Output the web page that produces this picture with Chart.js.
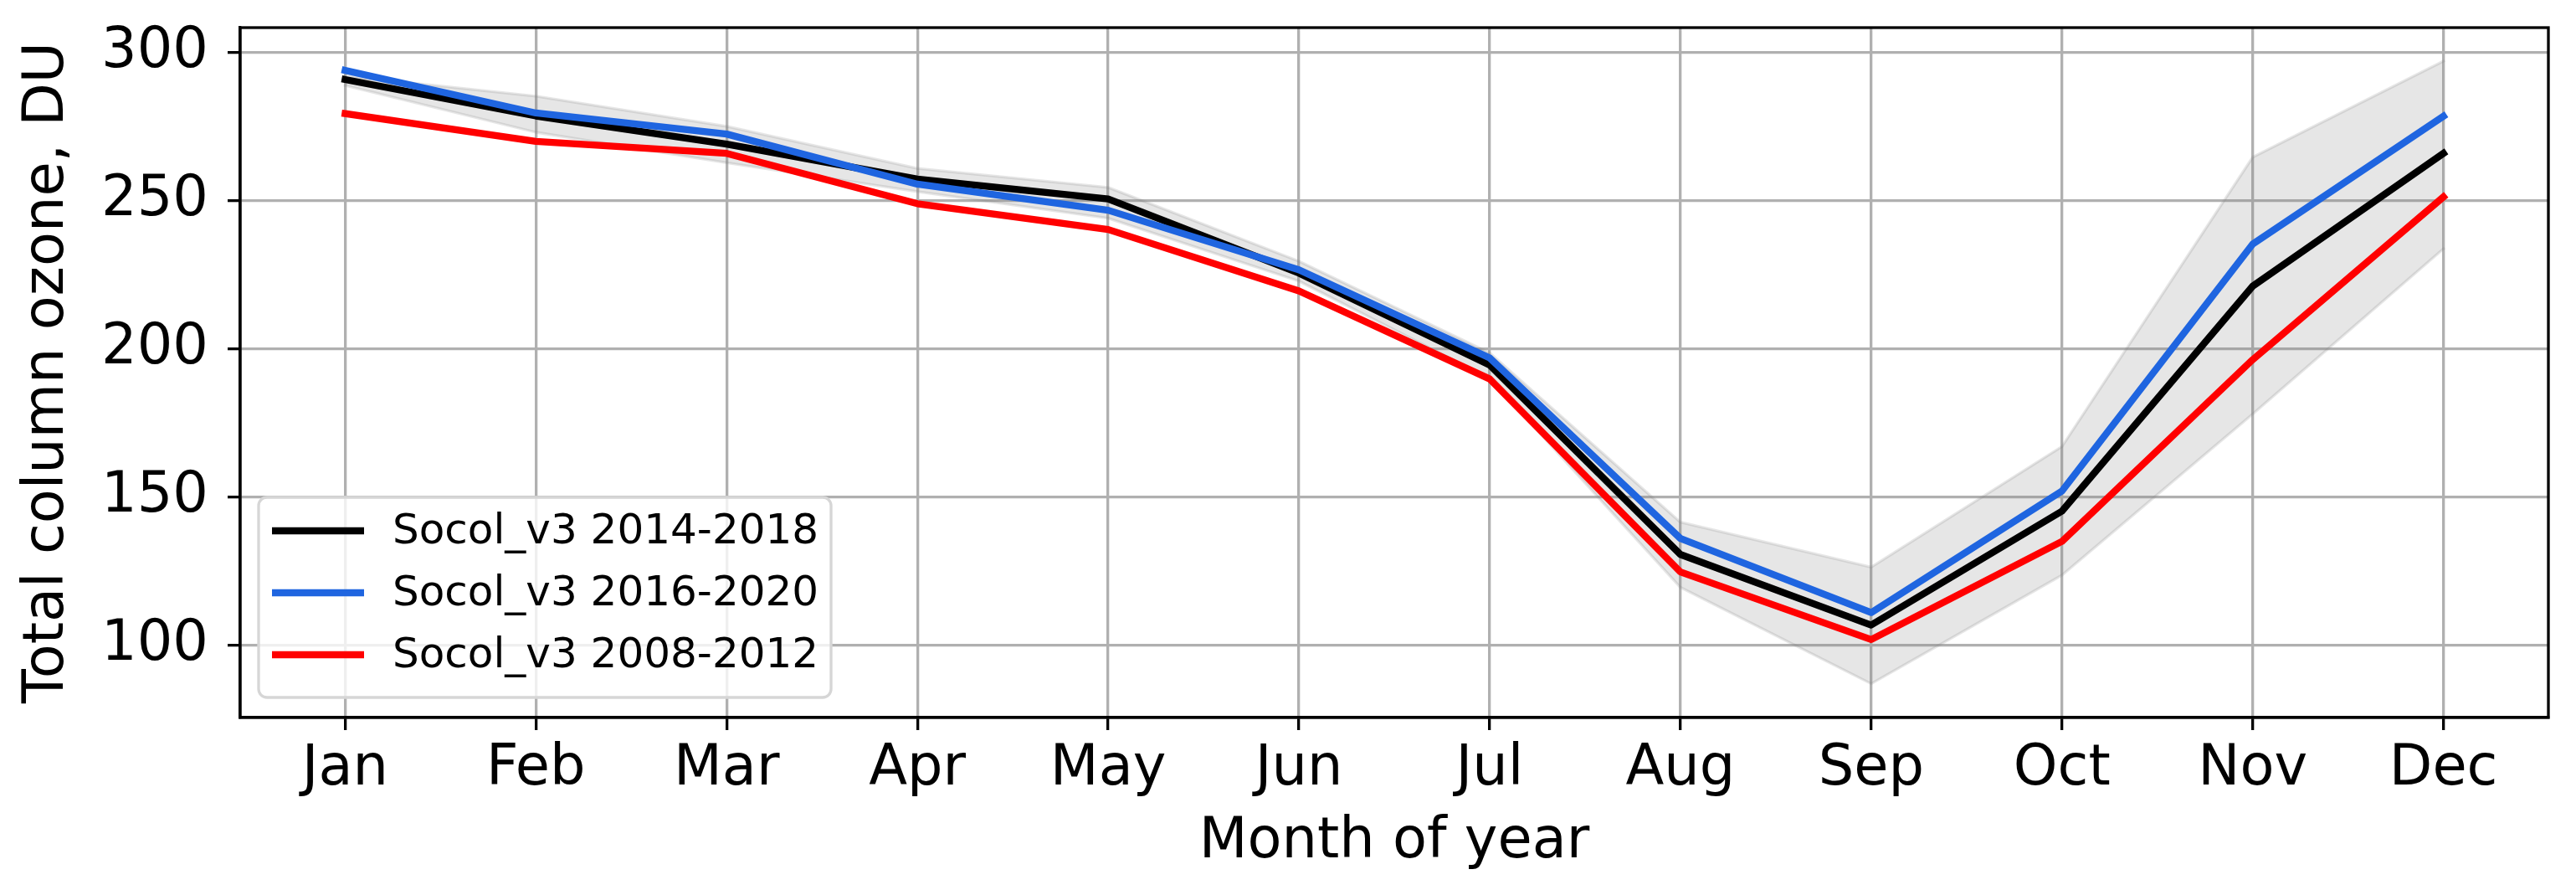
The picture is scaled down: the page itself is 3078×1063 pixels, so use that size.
<!DOCTYPE html>
<html>
<head>
<meta charset="utf-8">
<script src="https://cdn.jsdelivr.net/npm/chart.js@4.4.1/dist/chart.umd.min.js"></script>
<style>
  html, body { margin: 0; padding: 0; background: #ffffff; }
  #wrap { width: 3078px; height: 1063px; position: relative; }
  canvas { display: block; }
</style>
</head>
<body>
<div id="wrap"><canvas id="c" width="3078" height="1063"></canvas></div>
<script>
// ---- Data ----
const months = ['Jan', 'Feb', 'Mar', 'Apr', 'May', 'Jun', 'Jul', 'Aug', 'Sep', 'Oct', 'Nov', 'Dec'];
const socol20142018 = [290.8, 278.5, 269.0, 257.2, 250.5, 225.5, 194.5, 130.6, 106.8, 145.2, 221.1, 265.9];
const socol20162020 = [293.9, 279.5, 272.4, 255.5, 246.7, 226.6, 196.9, 136.0, 111.0, 152.0, 235.3, 278.4];
const socol20082012 = [279.3, 269.9, 265.9, 248.9, 240.2, 219.5, 189.8, 124.7, 101.9, 135.0, 196.3, 251.2];
const rangeUpper    = [292.0, 285.2, 275.0, 260.8, 254.4, 229.5, 198.6, 141.5, 126.3, 167.0, 264.6, 297.0];
const rangeLower    = [288.8, 273.0, 262.7, 253.0, 244.0, 222.8, 190.0, 119.5, 87.0, 123.6, 178.0, 233.7];
const yTickValues = [100, 150, 200, 250, 300];
const seriesLabels = ['Socol_v3 2014-2018', 'Socol_v3 2016-2020', 'Socol_v3 2008-2012'];

const toXY = arr => arr.map((v, i) => ({ x: i, y: v }));

const FONT = 'DejaVu Sans';
const BAND = 'rgba(128,128,128,0.2)';
const BLACK = '#000000';
const BLUE = '#1f65e0';
const RED = '#ff0000';

const datasets = [
  { label: seriesLabels[2], data: toXY(socol20082012), borderColor: RED, borderWidth: 8.3, pointRadius: 0, fill: false, order: 0 },
  { label: seriesLabels[1], data: toXY(socol20162020), borderColor: BLUE, borderWidth: 8.3, pointRadius: 0, fill: false, order: 1 },
  { label: seriesLabels[0], data: toXY(socol20142018), borderColor: BLACK, borderWidth: 8.3, pointRadius: 0, fill: false, order: 2 },
  { label: 'upper', data: toXY(rangeUpper), borderColor: BAND, backgroundColor: BAND, borderWidth: 3.3, pointRadius: 0, fill: { target: 4 }, order: 3 },
  { label: 'lower', data: toXY(rangeLower), borderColor: BAND, borderWidth: 3.3, pointRadius: 0, fill: false, order: 4 }
];

const legendItems = [
  { text: seriesLabels[0], color: BLACK },
  { text: seriesLabels[1], color: BLUE },
  { text: seriesLabels[2], color: RED }
];

function roundRect(ctx, x, y, w, h, r) {
  ctx.beginPath();
  ctx.moveTo(x + r, y);
  ctx.lineTo(x + w - r, y);
  ctx.arcTo(x + w, y, x + w, y + r, r);
  ctx.lineTo(x + w, y + h - r);
  ctx.arcTo(x + w, y + h, x + w - r, y + h, r);
  ctx.lineTo(x + r, y + h);
  ctx.arcTo(x, y + h, x, y + h - r, r);
  ctx.lineTo(x, y + r);
  ctx.arcTo(x, y, x + r, y, r);
  ctx.closePath();
}

const framePlugin = {
  id: 'frameAndLegend',
  afterDraw(chart) {
    const ctx = chart.ctx;
    const a = chart.chartArea;
    ctx.save();
    // Legend (lower left, inside axes)
    const lx = a.left + 22, ly = a.bottom - 24 - 239, lw = 684, lh = 239;
    roundRect(ctx, lx, ly, lw, lh, 10);
    ctx.fillStyle = 'rgba(255,255,255,0.8)';
    ctx.fill();
    ctx.strokeStyle = '#d6d6d6';
    ctx.lineWidth = 3.3;
    ctx.stroke();
    ctx.font = '50px "' + FONT + '"';
    ctx.textBaseline = 'middle';
    ctx.textAlign = 'left';
    legendItems.forEach((it, i) => {
      const y = ly + 40 + i * 74;
      ctx.beginPath();
      ctx.moveTo(lx + 16, y);
      ctx.lineTo(lx + 126, y);
      ctx.strokeStyle = it.color;
      ctx.lineWidth = 8.3;
      ctx.lineCap = 'butt';
      ctx.stroke();
      ctx.fillStyle = '#000';
      ctx.fillText(it.text, lx + 160, y + 2);
    });
    // Axes frame
    ctx.strokeStyle = '#000';
    ctx.lineWidth = 3.3;
    ctx.strokeRect(a.left, a.top, a.right - a.left, a.bottom - a.top);
    ctx.restore();
  }
};

new Chart(document.getElementById('c'), {
  type: 'line',
  data: { datasets },
  options: {
    responsive: false,
    devicePixelRatio: 1,
    animation: false,
    layout: { padding: { top: 33, right: 33, left: 0, bottom: 0 } },
    elements: { line: { tension: 0, borderCapStyle: 'square', borderJoinStyle: 'round' } },
    plugins: {
      legend: { display: false },
      tooltip: { enabled: false },
      filler: { propagate: false }
    },
    scales: {
      x: {
        type: 'linear',
        min: -0.55,
        max: 11.55,
        afterBuildTicks: s => { s.ticks = months.map((m, i) => ({ value: i })); },
        afterFit: s => { s.height = 206; s.paddingLeft = 0; s.paddingRight = 0; },
        ticks: {
          autoSkip: false,
          maxRotation: 0,
          padding: 7,
          color: '#000',
          font: { family: FONT, size: 67 },
          callback: (v) => months[Math.round(v)]
        },
        grid: { color: '#b0b0b0', lineWidth: 3.3, drawTicks: true, tickLength: 15, tickColor: '#000', tickWidth: 3.3 },
        border: { display: true, color: '#000', width: 3.3 },
        title: { display: true, text: 'Month of year', color: '#000', font: { family: FONT, size: 67 }, padding: { top: 0, bottom: 16 } }
      },
      y: {
        type: 'linear',
        min: 75.6,
        max: 308.3,
        afterBuildTicks: s => { s.ticks = yTickValues.map(v => ({ value: v })); },
        afterFit: s => { s.width = 287; s.paddingTop = 0; s.paddingBottom = 0; },
        ticks: {
          padding: 23,
          color: '#000',
          font: { family: FONT, size: 67 },
          callback: v => String(v)
        },
        grid: { color: '#b0b0b0', lineWidth: 3.3, drawTicks: true, tickLength: 15, tickColor: '#000', tickWidth: 3.3 },
        border: { display: true, color: '#000', width: 3.3 },
        title: { display: true, text: 'Total column ozone, DU', color: '#000', font: { family: FONT, size: 67 }, padding: { top: 17, bottom: 0 } }
      }
    }
  },
  plugins: [framePlugin]
});
</script>
</body>
</html>
